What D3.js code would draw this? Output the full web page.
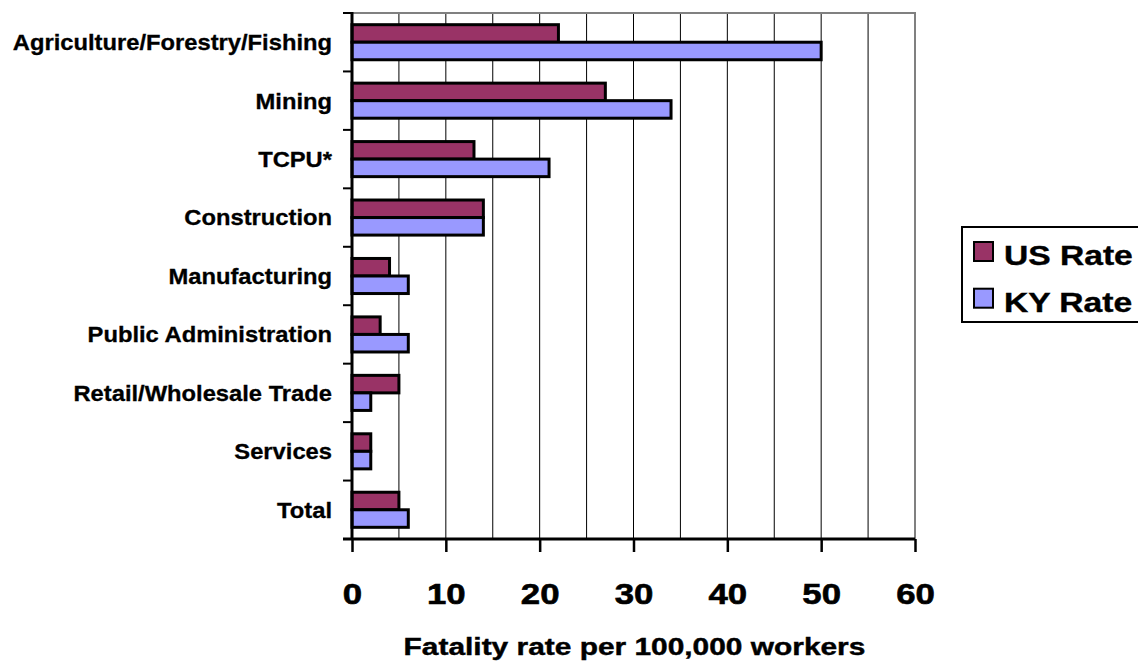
<!DOCTYPE html>
<html>
<head>
<meta charset="utf-8">
<script src="https://cdn.jsdelivr.net/npm/d3@7"></script>
<style>
  html, body { margin: 0; padding: 0; background: #fff; }
  svg { display: block; font-family: "Liberation Sans", Arial, sans-serif; font-weight: bold; }
</style>
</head>
<body>
<svg id="chart" width="1138" height="662"></svg>
<script>
// Occupational fatality rates by industry, US vs Kentucky
const categories = [
  "Agriculture/Forestry/Fishing",
  "Mining",
  "TCPU*",
  "Construction",
  "Manufacturing",
  "Public Administration",
  "Retail/Wholesale Trade",
  "Services",
  "Total"
];
const seriesNames = ["US Rate", "KY Rate"];
const usRate = [22, 27, 13, 14, 4, 3, 5, 2, 5];
const kyRate = [50, 34, 21, 14, 6, 6, 2, 2, 6];
const xTicks = [0, 10, 20, 30, 40, 50, 60];
const axisTitle = "Fatality rate per 100,000 workers";

const colors = { "US Rate": "#993366", "KY Rate": "#9999FF" };
const seriesValues = { "US Rate": usRate, "KY Rate": kyRate };

const svg = d3.select("#chart");
const plot = { left: 352, right: 915, top: 13, bottom: 539 };

const x = d3.scaleLinear().domain([0, 60]).range([plot.left, plot.right]);
const y = d3.scaleBand().domain(categories).range([plot.top, plot.bottom])
  .paddingInner(0.4).paddingOuter(0.2);
const ySub = d3.scaleBand().domain(seriesNames).range([0, y.bandwidth()]);

// vertical gridlines every 5 units
svg.append("g")
  .selectAll("line")
  .data(d3.range(5, 60, 5))
  .join("line")
  .attr("x1", d => x(d)).attr("x2", d => x(d))
  .attr("y1", plot.top).attr("y2", plot.bottom)
  .attr("stroke", "#000").attr("stroke-width", 1);

// top and right frame
svg.append("path")
  .attr("d", `M${plot.left},${plot.top}H${plot.right}V${plot.bottom}`)
  .attr("fill", "none").attr("stroke", "#808080").attr("stroke-width", 2);

// bars
const rows = categories.map((c, i) => ({ c, i }));
const groups = svg.append("g").selectAll("g")
  .data(rows).join("g")
  .attr("transform", d => `translate(0,${y(d.c)})`);
groups.selectAll("rect")
  .data(d => seriesNames.map(s => ({ s, v: seriesValues[s][d.i] })))
  .join("rect")
  .attr("x", x(0))
  .attr("y", d => ySub(d.s))
  .attr("width", d => x(d.v) - x(0))
  .attr("height", ySub.bandwidth())
  .attr("fill", d => colors[d.s])
  .attr("stroke", "#000").attr("stroke-width", 3);

// left axis with ticks at category boundaries
const boundaries = categories.map(c => y(c) - y.step() * y.paddingInner() / 2);
boundaries.push(plot.bottom);
boundaries[0] = plot.top;
svg.append("g").selectAll("line")
  .data(boundaries).join("line")
  .attr("x1", plot.left - 9).attr("x2", plot.left)
  .attr("y1", d => d).attr("y2", d => d)
  .attr("stroke", "#000").attr("stroke-width", 2);
svg.append("line")
  .attr("x1", plot.left).attr("x2", plot.left)
  .attr("y1", plot.top - 1).attr("y2", plot.bottom + 1)
  .attr("stroke", "#000").attr("stroke-width", 3);

// category labels (slightly widened bold face)
svg.append("g").selectAll("text")
  .data(categories).join("text")
  .attr("transform", d => `translate(332,${y(d) + y.bandwidth() / 2}) scale(1.08,1)`)
  .attr("dy", "0.36em")
  .attr("text-anchor", "end")
  .attr("font-size", 22)
  .attr("stroke", "#000").attr("stroke-width", 0.3)
  .text(d => d);

// bottom axis
const xAxis = d3.axisBottom(x).tickValues(xTicks).tickSize(13).tickFormat(d3.format("d"));
const gx = svg.append("g")
  .attr("transform", `translate(0,${plot.bottom})`)
  .call(xAxis);
gx.select(".domain").attr("stroke", "#000").attr("stroke-width", 3)
  .attr("d", `M${plot.left - 9},0H${plot.right}`);
gx.selectAll(".tick line").attr("stroke", "#000").attr("stroke-width", 2.5);
gx.selectAll(".tick text")
  .attr("y", 0).attr("dy", 0)
  .attr("transform", "translate(0,65) scale(1.16,1)")
  .attr("font-size", 30).attr("font-weight", "bold")
  .attr("font-family", "Liberation Sans, Arial, sans-serif")
  .attr("fill", "#000")
  .attr("stroke", "#000").attr("stroke-width", 0.6);

// axis title
svg.append("text")
  .attr("transform", "translate(634.5,655) scale(1.3,1)")
  .attr("text-anchor", "middle")
  .attr("font-size", 23)
  .attr("stroke", "#000").attr("stroke-width", 0.4)
  .text(axisTitle);

// legend
const legend = svg.append("g");
legend.append("rect")
  .attr("x", 962).attr("y", 227).attr("width", 200).attr("height", 95)
  .attr("fill", "#fff").attr("stroke", "#000").attr("stroke-width", 2);
const li = legend.selectAll("g.item").data(seriesNames).join("g")
  .attr("class", "item")
  .attr("transform", (d, i) => `translate(0,${i * 46.7})`);
li.append("rect")
  .attr("x", 974).attr("y", 242).attr("width", 19).attr("height", 19)
  .attr("fill", d => colors[d]).attr("stroke", "#000").attr("stroke-width", 2);
li.append("text")
  .attr("transform", "translate(1004,265) scale(1.2,1)")
  .attr("font-size", 28)
  .attr("stroke", "#000").attr("stroke-width", 0.4)
  .text(d => d);
</script>
</body>
</html>
